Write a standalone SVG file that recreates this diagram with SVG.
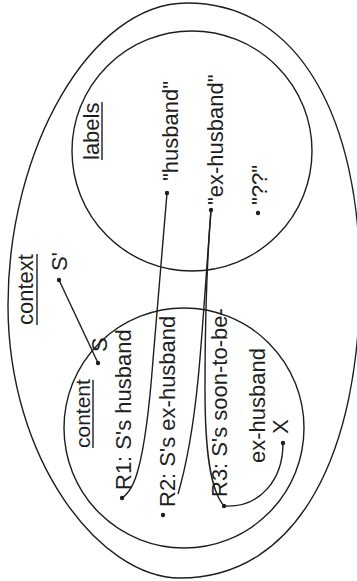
<svg xmlns="http://www.w3.org/2000/svg" width="357" height="581" viewBox="0 0 357 581">
<style>
.sh{fill:none;stroke:#1e1e1e;stroke-width:1.4}
.t{font-family:"Liberation Sans",Arial,sans-serif;font-size:22px;fill:#1e1e1e}
.u{stroke:#1e1e1e;stroke-width:1.4}
.d{fill:#1e1e1e}
.c{fill:none;stroke:#1e1e1e;stroke-width:1.4}
</style>
<rect width="357" height="581" fill="#fff"/>
<g id="context">
<path class="sh" d="M187,3 C300,3 360,120 360,280 C360,450 300,578 180,578 C100,578 8,460 8,305 C8,150 90,3 187,3 Z"/>
<text class="t" transform="translate(33,325) rotate(-90)">context</text>
<line class="u" x1="37" y1="325" x2="37" y2="254"/>
</g>
<g id="labels">
<circle class="sh" cx="192" cy="151" r="120"/>
<text class="t" transform="translate(99,160) rotate(-90)">labels</text>
<line class="u" x1="102" y1="160" x2="102" y2="102"/>
</g>
<g id="content">
<circle class="sh" cx="184" cy="428" r="120"/>
<text class="t" style="font-size:21px" transform="translate(90,448) rotate(-90)">content</text>
<line class="u" x1="93" y1="448" x2="93" y2="380"/>
</g>
<g id="label-husband">
<circle class="d" cx="167" cy="193" r="2.2"/>
<text class="t" transform="translate(178,181) rotate(-90)">"husband"</text>
</g>
<g id="label-exhusband">
<circle class="d" cx="211" cy="210" r="2.2"/>
<text class="t" transform="translate(223,205) rotate(-90)">"ex-husband"</text>
</g>
<g id="label-unknown">
<circle class="d" cx="258" cy="213" r="2.2"/>
<text class="t" transform="translate(267,205) rotate(-90)">"??"</text>
</g>
<g id="s-prime">
<circle class="d" cx="59" cy="280" r="2.2"/>
<text class="t" transform="translate(67,271) rotate(-90)">S'</text>
</g>
<g id="s">
<circle class="d" cx="98" cy="363" r="2.2"/>
<text class="t" transform="translate(107,352) rotate(-90)">S</text>
</g>
<g id="r1">
<circle class="d" cx="122" cy="498" r="2.2"/>
<text class="t" transform="translate(131,490) rotate(-90)">R1: S's husband</text>
</g>
<g id="r2">
<circle class="d" cx="163" cy="515" r="2.2"/>
<text class="t" transform="translate(175,507) rotate(-90)">R2: S's ex-husband</text>
</g>
<g id="r3">
<circle class="d" cx="224" cy="506" r="2.2"/>
<text class="t" transform="translate(227,497) rotate(-90)">R3: S's soon-to-be-</text>
<text class="t" transform="translate(265,463) rotate(-90)">ex-husband</text>
</g>
<g id="x">
<circle class="d" cx="283" cy="443" r="2.2"/>
<text class="t" transform="translate(288,434) rotate(-90)">X</text>
</g>
<g id="connectors">
<path class="c" d="M59,280 L98,363"/>
<path class="c" d="M167,193 L153,360 C150,400 145,445 138,470 C134,485 128,494 122,498"/>
<path class="c" d="M211,210 C205,290 202,340 198,380 C193,430 185,470 178,494"/>
<path class="c" d="M211,210 C207,260 205,320 205,390 C205,450 210,490 224,506"/>
<path class="c" d="M283,443 C283,480 260,508 224,506"/>
</g>
</svg>
